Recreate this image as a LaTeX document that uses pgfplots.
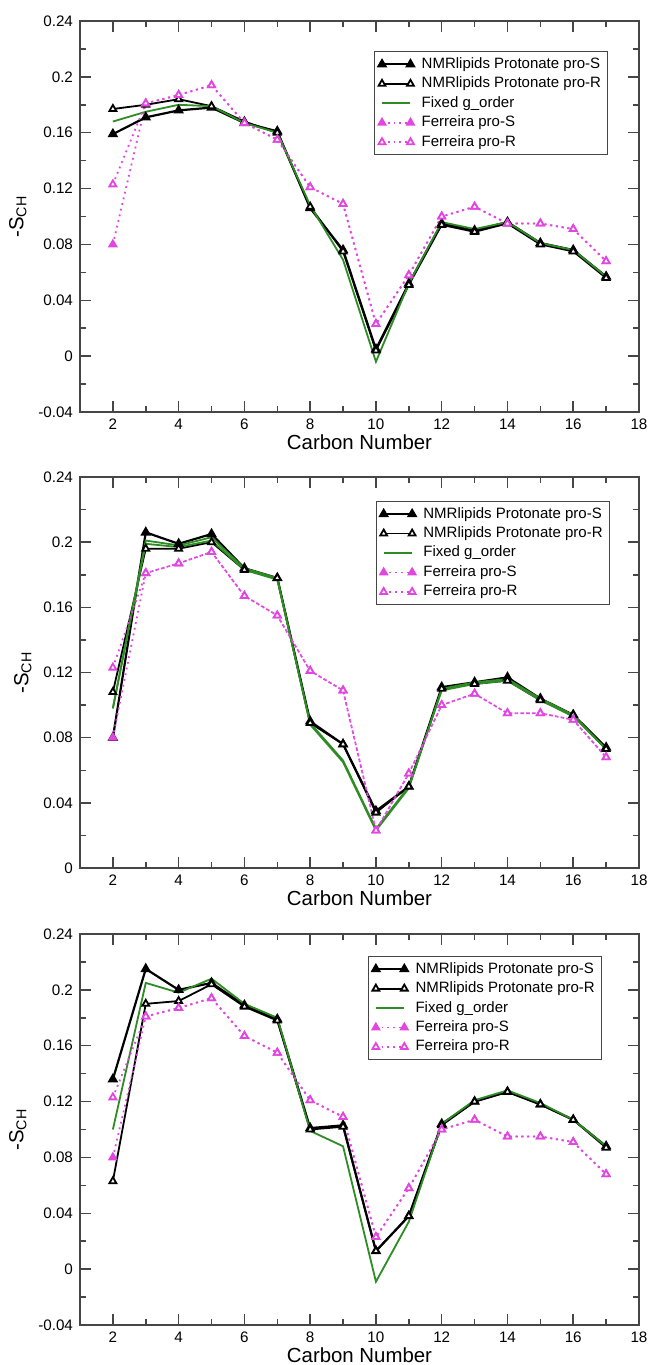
\documentclass[border=0pt]{standalone}
\usepackage{fontspec}
\setmainfont{Liberation Sans}
\usepackage{pgfplots}
\usepackage{pgfplotstable}
\pgfplotsset{compat=1.18}

\definecolor{ferr}{RGB}{225,70,225}
\definecolor{gord}{RGB}{45,140,35}
\definecolor{frm}{RGB}{70,70,70}

% Ferreira experimental values, same in all three panels
\pgfplotstableread{
c  s     r
2  0.080 0.123
3  0.181 0.181
4  0.187 0.187
5  0.194 0.194
6  0.167 0.167
7  0.155 0.155
8  0.121 0.121
9  0.109 0.109
10 0.023 0.023
11 0.058 0.058
12 0.100 0.100
13 0.107 0.107
14 0.095 0.095
15 0.095 0.095
16 0.091 0.091
17 0.068 0.068
}\ferreira

% panel 1
\pgfplotstableread{
c  s     r     g
2  0.159 0.177 0.168
3  0.171 0.180 0.175
4  0.176 0.184 0.180
5  0.178 0.179 0.179
6  0.167 0.168 0.167
7  0.161 0.160 0.160
8  0.106 0.107 0.108
9  0.076 0.075 0.069
10 0.005 0.004 -0.004
11 0.052 0.051 0.052
12 0.095 0.094 0.096
13 0.090 0.089 0.091
14 0.096 0.095 0.096
15 0.081 0.080 0.081
16 0.076 0.075 0.076
17 0.057 0.056 0.057
}\panelA

% panel 2
\pgfplotstableread{
c  s     r     g     h
2  0.080 0.108 0.098 0.098
3  0.206 0.196 0.201 0.199
4  0.199 0.196 0.198 0.197
5  0.205 0.200 0.203 0.201
6  0.184 0.183 0.184 0.183
7  0.178 0.178 0.178 0.177
8  0.090 0.089 0.088 0.089
9  0.076 0.076 0.065 0.066
10 0.035 0.034 0.023 0.024
11 0.050 0.050 0.049 0.050
12 0.111 0.110 0.110 0.109
13 0.114 0.113 0.114 0.113
14 0.117 0.115 0.116 0.115
15 0.104 0.103 0.104 0.103
16 0.094 0.094 0.094 0.093
17 0.074 0.073 0.073 0.073
}\panelB

% panel 3
\pgfplotstableread{
c  s     r     g
2  0.136 0.063 0.100
3  0.215 0.190 0.205
4  0.200 0.192 0.198
5  0.205 0.204 0.208
6  0.189 0.188 0.190
7  0.179 0.178 0.180
8  0.101 0.100 0.099
9  0.103 0.102 0.088
10 0.013 0.013 -0.009
11 0.038 0.038 0.034
12 0.104 0.103 0.104
13 0.120 0.120 0.121
14 0.127 0.127 0.128
15 0.118 0.118 0.119
16 0.107 0.107 0.107
17 0.088 0.087 0.088
}\panelC

\pgfplotsset{
  schplot/.style={
    scale only axis, width=279.5pt, height=195.5pt,
    xmin=1, xmax=18, xtick={2,4,...,18},
    xticklabels={2,4,6,8,10,12,14,16,18}, minor x tick num=1,
    ymax=0.24, minor y tick num=1,
    axis line style={frm, line width=0.75pt},
    every tick/.style={frm, line width=0.75pt},
    major tick length=5.5pt, minor tick length=3pt,
    tick label style={font=\fontsize{7.6}{9}\selectfont},
    xlabel={Carbon Number}, ylabel={-S\textsubscript{CH}},
    label style={font=\fontsize{10.2}{12}\selectfont},
    xlabel style={yshift=4.5pt},
    ylabel style={yshift=-1pt},
    legend cell align=left,
    legend style={anchor=north east, draw=frm, line width=0.5pt,
      font=\fontsize{7.5}{9}\selectfont, nodes={inner sep=1.4pt},
      inner xsep=2pt, inner ysep=1.5pt,
      /tikz/every odd column/.append style={column sep=2.5pt}},
    legend image code/.code={
      \draw[mark repeat=1,mark phase=1,##1] plot coordinates {(0cm,0cm) (0.5cm,0cm)};},
  },
  fullrange/.style={ymin=-0.04, ytick={-0.04,0,0.04,0.08,0.12,0.16,0.2,0.24},
    yticklabels={-0.04,0,0.04,0.08,0.12,0.16,0.2,0.24}},
  nmrS/.style={black, line width=1.1pt, mark=triangle*, mark size=2pt, mark options={solid, fill=black}},
  nmrR/.style={black, line width=0.9pt, mark=triangle*, mark size=2pt, mark options={solid, fill=white}},
  gline/.style={gord, line width=0.9pt, no markers},
  ferS/.style={ferr, dotted, line width=0.9pt, mark=triangle*, mark size=2pt, mark options={solid, fill=ferr}},
  ferR/.style={ferr, dotted, line width=0.9pt, mark=triangle*, mark size=2pt, mark options={solid, fill=white}},
}

\begin{document}
\begin{tikzpicture}
\useasboundingbox (0,0) rectangle (324.5pt,-682.5pt);

\begin{axis}[schplot, fullrange, at={(40pt,-206pt)}, anchor=south west,
    legend style={at={(0.945,0.923)}}]
\addplot[nmrS] table[x=c, y=s] {\panelA};
\addlegendentry{NMRlipids Protonate pro-S}
\addplot[nmrR] table[x=c, y=r] {\panelA};
\addlegendentry{NMRlipids Protonate pro-R}
\addplot[gline] table[x=c, y=g] {\panelA};
\addlegendentry{Fixed g\_order}
\addplot[ferS] table[x=c, y=s] {\ferreira};
\addlegendentry{Ferreira pro-S}
\addplot[ferR] table[x=c, y=r] {\ferreira};
\addlegendentry{Ferreira pro-R}
\end{axis}

\begin{axis}[schplot, at={(40pt,-434pt)}, anchor=south west,
    ymin=0, ytick={0,0.04,0.08,0.12,0.16,0.2,0.24},
    yticklabels={0,0.04,0.08,0.12,0.16,0.2,0.24},
    legend style={at={(0.948,0.939)}}]
\addplot[nmrS] table[x=c, y=s] {\panelB};
\addlegendentry{NMRlipids Protonate pro-S}
\addplot[nmrR] table[x=c, y=r] {\panelB};
\addlegendentry{NMRlipids Protonate pro-R}
\addplot[gline] table[x=c, y=g] {\panelB};
\addlegendentry{Fixed g\_order}
\addplot[gline, forget plot] table[x=c, y=h] {\panelB};
\addplot[ferS] table[x=c, y=s] {\ferreira};
\addlegendentry{Ferreira pro-S}
\addplot[ferR] table[x=c, y=r] {\ferreira};
\addlegendentry{Ferreira pro-R}
\end{axis}

\begin{axis}[schplot, fullrange, at={(40pt,-662.5pt)}, anchor=south west,
    legend style={at={(0.934,0.944)}}]
\addplot[nmrS] table[x=c, y=s] {\panelC};
\addlegendentry{NMRlipids Protonate pro-S}
\addplot[nmrR] table[x=c, y=r] {\panelC};
\addlegendentry{NMRlipids Protonate pro-R}
\addplot[gline] table[x=c, y=g] {\panelC};
\addlegendentry{Fixed g\_order}
\addplot[ferS] table[x=c, y=s] {\ferreira};
\addlegendentry{Ferreira pro-S}
\addplot[ferR] table[x=c, y=r] {\ferreira};
\addlegendentry{Ferreira pro-R}
\end{axis}
\end{tikzpicture}
\end{document}
